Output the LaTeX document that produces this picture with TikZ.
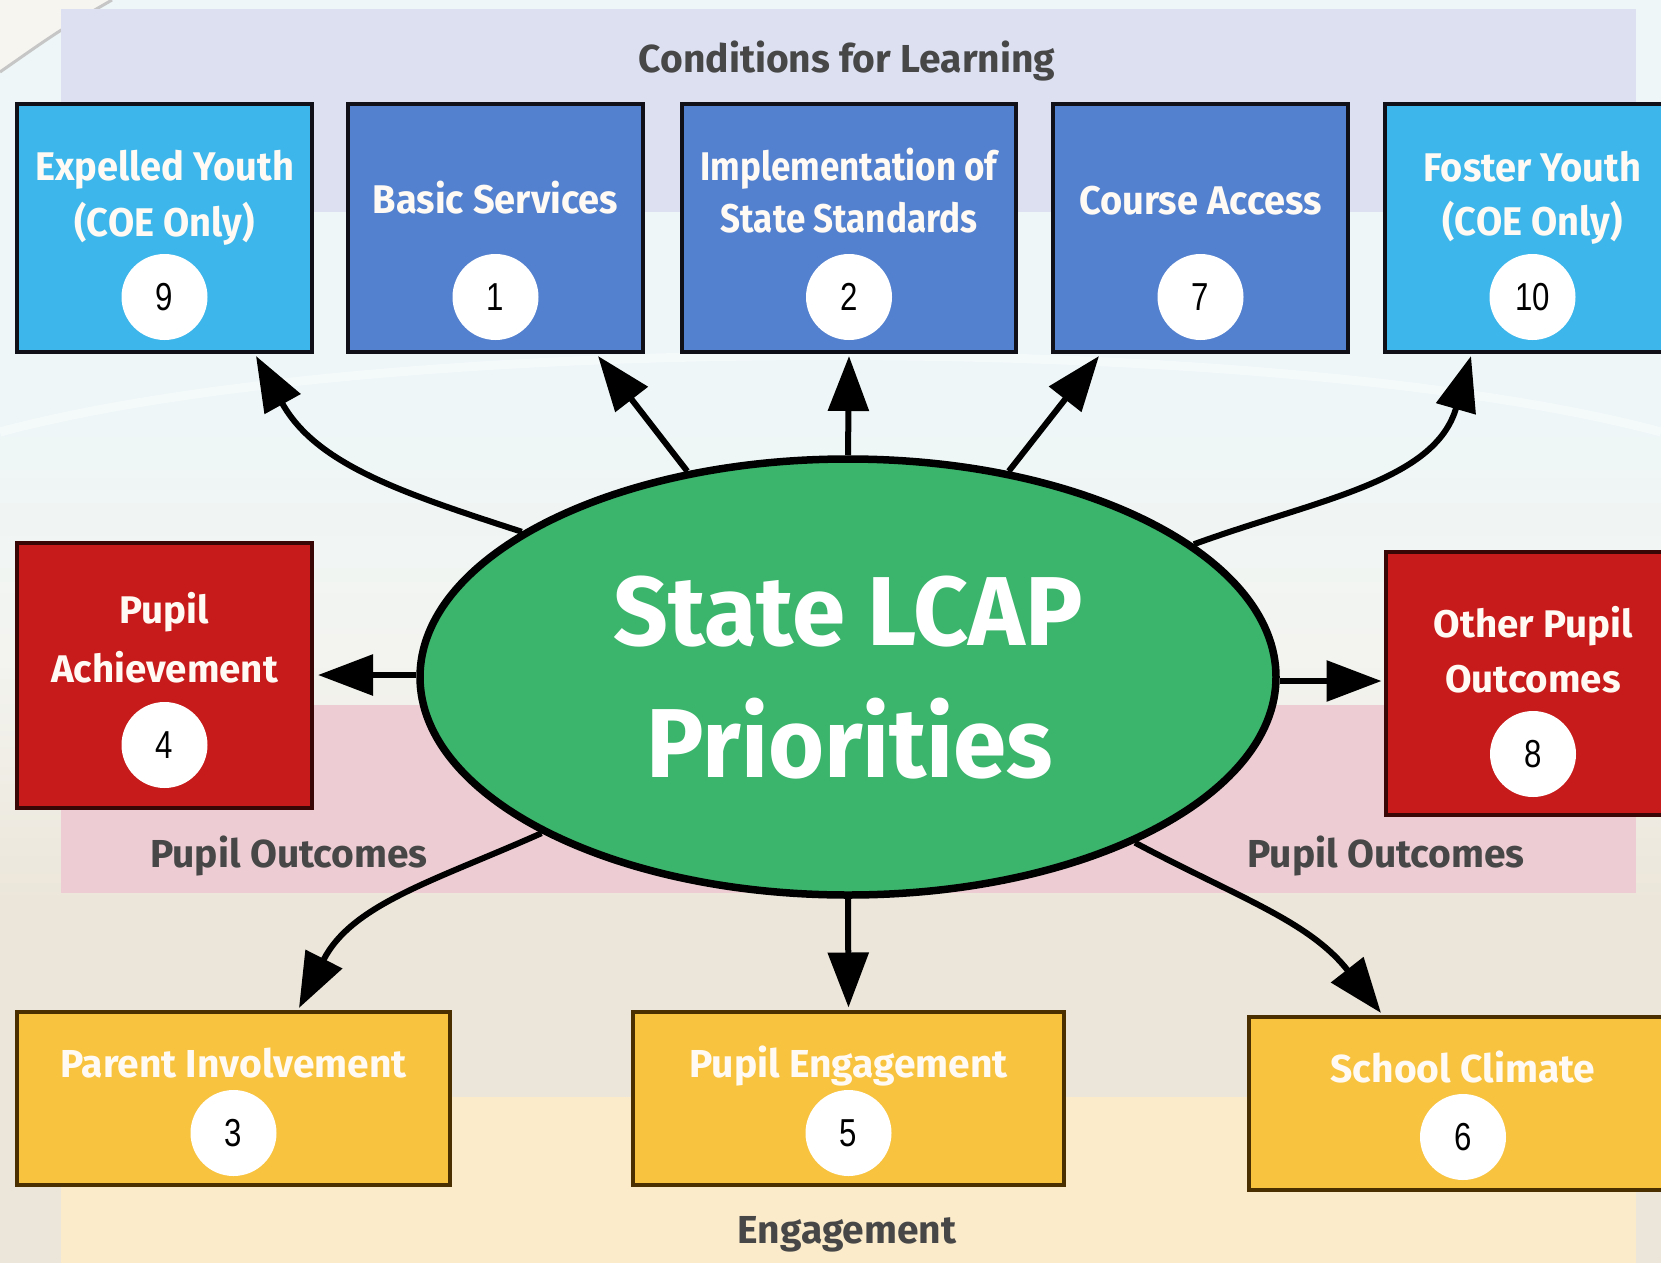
\documentclass[tikz,border=0pt]{standalone}
\usepackage{fontspec}
\setmainfont{Fira Sans}
\newfontfamily\boxf{Fira Sans}[FakeStretch=0.95]
\newfontfamily\narf{Fira Sans}[FakeStretch=0.875]
\newfontfamily\widef{Fira Sans}
\newfontfamily\numf{Liberation Sans}[FakeStretch=0.8]
\newfontfamily\titf{Fira Sans}[FakeStretch=0.98]
\usetikzlibrary{shapes.geometric,arrows.meta,calc}

\definecolor{lav}{HTML}{DCE0F1}
\definecolor{pinkband}{HTML}{EDCDD3}
\definecolor{yelband}{HTML}{FBEBCB}
\definecolor{bgtop}{HTML}{EEF6F7}
\definecolor{bgmid}{HTML}{F3F4F0}
\definecolor{bgbot}{HTML}{ECE6DA}
\definecolor{lblue}{HTML}{3CB6EB}
\definecolor{mblue}{HTML}{5481CF}
\definecolor{redbox}{HTML}{C71A1A}
\definecolor{yelbox}{HTML}{F8C33F}
\definecolor{grn}{HTML}{3BB46C}
\definecolor{lbl}{HTML}{474747}
\definecolor{navyline}{HTML}{101018}
\definecolor{redline}{HTML}{3A0707}
\definecolor{yelline}{HTML}{4A3000}
\definecolor{boxtext}{HTML}{FFFBF4}

\begin{document}
\begin{tikzpicture}[x=1pt,y=1pt,
  pbox/.style={rectangle, line width=4pt, inner sep=0pt, outer sep=0pt},
  topbox/.style={pbox, minimum width=295pt, minimum height=248pt, draw=navyline},
  midbox/.style={pbox, minimum width=295pt, minimum height=265pt, draw=redline, fill=redbox},
  botbox/.style={pbox, minimum width=431pt, minimum height=173pt, draw=yelline, fill=yelbox},
  numc/.style={circle, fill=white, minimum size=86pt, inner sep=0pt,
    font=\numf\fontsize{39}{39}\selectfont, text=black},
  ttop/.style={text=boxtext, anchor=base, inner sep=0pt, font=\boxf\bfseries\fontsize{40}{40}\selectfont},
  tnar/.style={text=boxtext, anchor=base, inner sep=0pt, font=\narf\bfseries\fontsize{40}{40}\selectfont},
  tmid/.style={text=boxtext, anchor=base, inner sep=0pt, font=\widef\bfseries\fontsize{38.5}{38.5}\selectfont},
  tbot/.style={text=boxtext, anchor=base, inner sep=0pt, font=\widef\bfseries\fontsize{39}{39}\selectfont},
  bandlbl/.style={text=lbl, anchor=base, inner sep=0pt, font=\widef\bfseries\fontsize{39}{39}\selectfont},
  ttitle/.style={text=white, anchor=base, inner sep=0pt, font=\titf\bfseries\fontsize{98}{98}\selectfont},
  arr/.style={line width=6pt, draw=black, -{Triangle[length=55pt,width=40pt]}}
]
\useasboundingbox (0,0) rectangle (1661,-1263);
\clip (0,0) rectangle (1661,-1263);

% background
\fill[bgtop] (0,0) rectangle (1661,-420);
\shade[top color=bgtop, bottom color=bgmid] (0,-420) rectangle (1661,-650);
\shade[top color=bgmid, bottom color=bgbot] (0,-650) rectangle (1661,-900);
\fill[bgbot] (0,-900) rectangle (1661,-1263);
\fill[color=white!60!bgbot] (0,0) -- (112,0) .. controls (60,-30) .. (0,-72) -- cycle;
\draw[color=gray!45, line width=3pt] (0,-72) .. controls (60,-30) .. (112,0);
\draw[color=white, line width=9pt, opacity=0.4] (0,-432) .. controls (380,-330) and (1280,-330) .. (1661,-432);

% bands
\fill[lav] (61,-9) rectangle (1636,-212);
\fill[pinkband] (61,-705) rectangle (1636,-893);
\fill[yelband] (61,-1097) rectangle (1636,-1263);

\node[bandlbl] (lcond) at (847,-73) {Conditions for Learning};
\node[bandlbl] (lpo1) at (289,-867) {Pupil Outcomes};
\node[bandlbl] (lpo2) at (1386,-867) {Pupil Outcomes};
\node[bandlbl] (leng) at (847,-1243) {Engagement};

% top row
\node[topbox, fill=lblue] (b9) at (164.5,-228) {};
\node[topbox, fill=mblue] (b1) at (495.5,-228) {};
\node[topbox, fill=mblue, minimum width=334pt] (b2) at (849,-228) {};
\node[topbox, fill=mblue] (b7) at (1200.5,-228) {};
\node[topbox, fill=lblue] (b10) at (1532.5,-228) {};

\node[ttop] (t9a) at (164.5,-180) {Expelled Youth};
\node[ttop] (t9b) at (164.5,-236) {(COE Only)};
\node[ttop] (t1a) at (495.5,-213) {Basic Services};
\node[tnar] (t2a) at (849,-180) {Implementation of};
\node[tnar] (t2b) at (849,-232) {State Standards};
\node[ttop] (t7a) at (1200.5,-214) {Course Access};
\node[ttop] (t10a) at (1532.5,-181) {Foster Youth};
\node[ttop] (t10b) at (1532.5,-235) {(COE Only)};

\node[numc] (n9) at (164.5,-297) {9};
\node[numc] (n1) at (495.5,-297) {1};
\node[numc] (n2) at (849,-297) {2};
\node[numc] (n7) at (1200.5,-297) {7};
\node[numc] (n10) at (1532.5,-297) {10};

% middle row
\node[midbox] (b4) at (164.5,-675) {};
\node[midbox, minimum height=263pt] (b8) at (1533,-683.5) {};
\node[tmid] (t4a) at (164.5,-623) {Pupil};
\node[tmid] (t4b) at (164.5,-682) {Achievement};
\node[tmid] (t8a) at (1533,-637) {Other Pupil};
\node[tmid] (t8b) at (1533,-692) {Outcomes};
\node[numc] (n4) at (164.5,-745) {4};
\node[numc] (n8) at (1533,-754) {8};

% bottom row
\node[botbox, minimum width=433pt] (b3) at (233.5,-1098.5) {};
\node[botbox] (b5) at (848.5,-1098) {};
\node[botbox, minimum width=428pt] (b6) at (1463,-1103.5) {};
\node[tbot] (t3a) at (233.5,-1077) {Parent Involvement};
\node[tbot] (t5a) at (848.5,-1077) {Pupil Engagement};
\node[tbot] (t6a) at (1463,-1082) {School Climate};
\node[numc] (n3) at (233.5,-1133) {3};
\node[numc] (n5) at (848.5,-1133) {5};
\node[numc] (n6) at (1463,-1137) {6};

% central ellipse
\node[ellipse, draw=black, line width=7.5pt, fill=grn, minimum width=856pt, minimum height=436pt, inner sep=0pt] (ell) at (848,-677) {};
\node[ttitle] (tt1) at (848,-645) {State LCAP};
\node[ttitle] (tt2) at (850,-777) {Priorities};

% connectors
\draw[arr] (ell.156.7) to[out=162,in=-61] ([xshift=91.5pt,yshift=-4pt]b9.south);
\draw[arr] (ell.128) -- ([xshift=102.5pt,yshift=-4pt]b1.south);
\draw[arr] (ell.north) -- ([yshift=-4pt]b2.south);
\draw[arr] (ell.52) -- ([xshift=-101.5pt,yshift=-4pt]b7.south);
\draw[arr] (ell.21.3) to[out=20,in=-106] ([xshift=-61.5pt,yshift=-4pt]b10.south);
\draw[arr] ([yshift=2pt]ell.west) -- ([xshift=6pt]b4.east);
\draw[arr] ([yshift=-4pt]ell.east) -- ([xshift=-4pt,yshift=2.5pt]b8.west);
\draw[arr] (ell.207.5) to[out=204,in=63] ([xshift=65.5pt,yshift=4pt]b3.north);
\draw[arr] (ell.south) -- ([yshift=4pt]b5.north);
\draw[arr] (ell.330.7) to[out=-28,in=128] ([xshift=-82pt,yshift=4pt]b6.north);
\end{tikzpicture}
\end{document}
